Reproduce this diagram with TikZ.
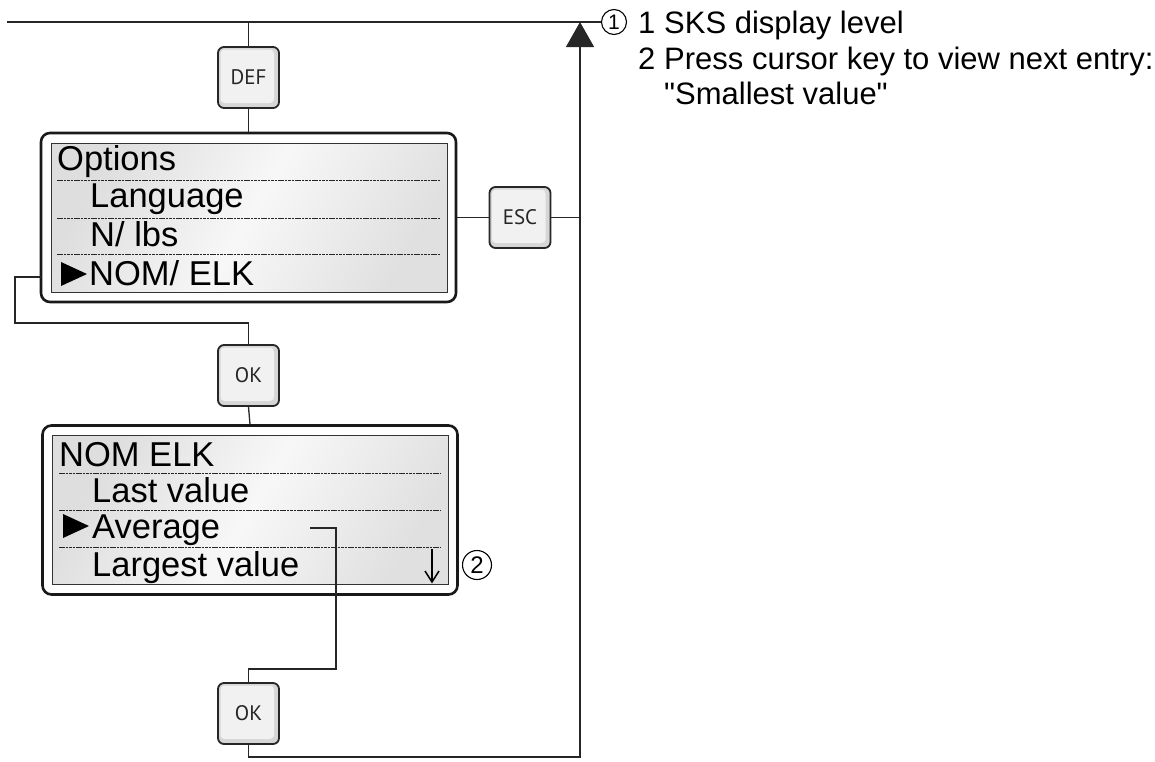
\documentclass[tikz,border=0pt]{standalone}
\usepackage{fontspec}
\setmainfont{Liberation Sans}
\newfontfamily\notefont{Liberation Sans}
\newfontfamily\keyfont{PT Sans}
\usetikzlibrary{arrows.meta}
\begin{document}
\begin{tikzpicture}[x=1pt,y=-1pt,
  conn/.style={draw=black!85,line width=1.3pt},
  keybox/.style={draw=black!85,line width=1.8pt,rounded corners=6pt,
    minimum width=61pt,minimum height=61pt,inner sep=0pt,
    fill=gray!32,
    font=\keyfont\fontsize{21}{21}\selectfont,text=black!85,
    path picture={\fill[gray!11,rounded corners=4pt]
      ([shift={(2.5pt,-2.5pt)}]path picture bounding box.north west) rectangle
      ([shift={(-5pt,5pt)}]path picture bounding box.south east);}},
  dispout/.style={draw=black!90,line width=2.6pt,rounded corners=9pt,fill=white,
    minimum width=415pt,minimum height=169pt,inner sep=0pt},
  lcd/.style={draw=black!80,line width=1pt,left color=gray!26,right color=gray!24,
    middle color=gray!6,shading angle=60,
    minimum width=396pt,minimum height=149pt,inner sep=0pt},
  lcdtxt/.style={anchor=base west,inner sep=0pt,font=\fontsize{34.5}{34.5}\selectfont},
  lcddash/.style={draw=black!85,line width=1pt,dash pattern=on 2.6pt off 0.8pt},
  pointer/.style={fill=black},
  callout/.style={circle,draw=black,line width=1.1pt,inner sep=0pt,
    font=\notefont\fontsize{20}{20}\selectfont},
  note/.style={anchor=base west,inner sep=0pt,font=\notefont\fontsize{31}{31}\selectfont}
]
\useasboundingbox (0,0) rectangle (1155,761);

% keys
\node[keybox] (def) at (248.5,77.5) {DEF};
\node[keybox] (esc) at (520,217.5) {ESC};
\node[keybox] (ok1) at (248.5,375.5) {OK};
\node[keybox] (ok2) at (248.5,713.5) {OK};

% display 1
\node[dispout] (d1) at (248.5,217.5) {};
\node[lcd] (l1) at (249,217.5) {};
\draw[lcddash] (57,180) -- (440,180);
\draw[lcddash] (57,218) -- (440,218);
\draw[lcddash] (57,254) -- (440,254);
\node[lcdtxt] (o1) at (57,170) {Options};
\node[lcdtxt] (o2) at (90,207) {Language};
\node[lcdtxt] (o3) at (90,246) {N/ lbs};
\node[lcdtxt] (o4) at (89,285) {NOM/ ELK};
\fill[pointer] (61,262) -- (87,274) -- (61,286) -- cycle;

% display 2
\node[dispout] (d2) at (250,510) {};
\node[lcd] (l2) at (250.5,510) {};
\draw[lcddash] (59,473) -- (441,473);
\draw[lcddash] (59,510) -- (441,510);
\draw[lcddash] (59,547) -- (441,547);
\node[lcdtxt] (m1) at (59,466) {NOM ELK};
\node[lcdtxt] (m2) at (92,502) {Last value};
\node[lcdtxt] (m3) at (92,538) {Average};
\node[lcdtxt] (m4) at (92,576) {Largest value};
\fill[pointer] (63,514) -- (89,526) -- (63,538) -- cycle;
\draw[black,line width=1.5pt] (432,549) -- (432,582);
\draw[black,line width=1.5pt,line join=miter] (425,571) -- (432,582) -- (439,571);

% callouts
\node[callout,minimum size=25pt,font=\notefont\fontsize{21}{21}\selectfont] (c1) at (614,22) {1};
\node[callout,minimum size=29pt,font=\notefont\fontsize{24}{24}\selectfont] (c2) at (477,565) {2};

% connectors
\coordinate (tl) at (7,22);
\coordinate (tr) at (580,22);
\coordinate (br) at (580,757);
\coordinate (lo) at (15,323);
\coordinate (la) at (41,277);
\coordinate (av) at (310,528);
\coordinate (avd) at (336,669);

\draw[conn] (tl) -- (c1.west);
\draw[conn] (def.north) -- (def.north |- tl);
\draw[conn] (def.south) -- (d1.north);
\draw[conn] (d1.east |- esc.west) -- (esc.west);
\draw[conn] (esc.east) -- (esc.east -| tr);
\draw[conn] (la) -| (lo) -| (ok1.north);
\draw[conn] (ok1.south) -- (d2.north);
\draw[conn] (av) -| (avd) -| (ok2.north);
\draw[conn,-{Triangle[width=28pt,length=25pt]}] (ok2.south) |- (br) -- (tr);

% notes
\node[note] (n1) at (638,33) {1};
\node[note] (t1) at (664,33) {SKS display level};
\node[note] (n2) at (638,69) {2};
\node[note] (t2) at (664,69) {Press cursor key to view next entry:};
\node[note] (t3) at (664,104) {"Smallest value"};
\end{tikzpicture}
\end{document}
